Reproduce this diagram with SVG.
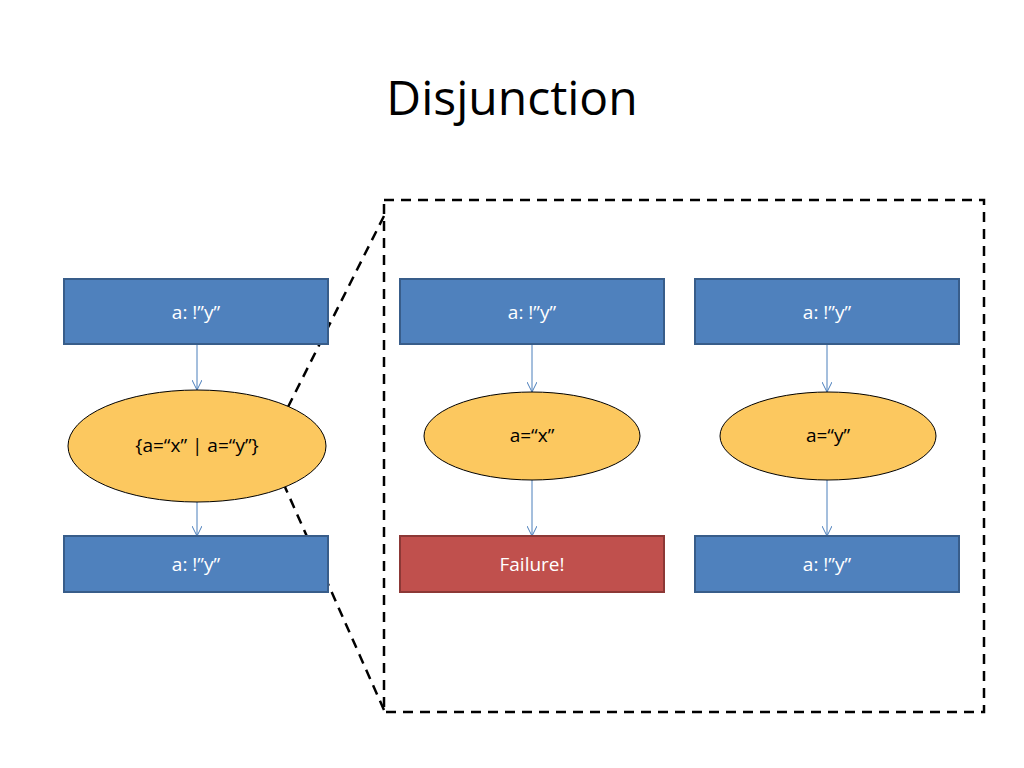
<svg xmlns="http://www.w3.org/2000/svg" width="1024" height="768" viewBox="0 0 1024 768">
<defs>
<style>
.b{fill:#4f81bd;stroke:#385d8a;stroke-width:2}
.r{fill:#c0504d;stroke:#8c3836;stroke-width:2}
.e{fill:#fcc85f;stroke:#000;stroke-width:1}
.tw{font-family:"Open Sans","Liberation Sans",sans-serif;font-size:19px;fill:#fff;text-anchor:middle}
.tk{font-family:"Open Sans","Liberation Sans",sans-serif;font-size:19px;fill:#000;text-anchor:middle}
.d{fill:none;stroke:#000;stroke-width:2.5;stroke-dasharray:10,7}
.c{stroke:#4a7ebb;stroke-width:1;fill:none;marker-end:url(#a)}
</style>
<marker id="a" markerWidth="12" markerHeight="10" refX="10" refY="5" orient="auto" markerUnits="userSpaceOnUse"><path d="M0,0 L10,5 L0,10" fill="none" stroke="#4a7ebb" stroke-width="1"/></marker>
</defs>
<rect width="1024" height="768" fill="#fff"/>
<text x="512" y="115" font-family="'Open Sans','Liberation Sans',sans-serif" font-size="48" text-anchor="middle" fill="#000">Disjunction</text>
<g id="zoom">
<rect class="d" x="384" y="200" width="600" height="512"/>
<line class="d" x1="384" y1="216" x2="288" y2="407"/>
<line class="d" x1="384" y1="710" x2="285" y2="487"/>
</g>
<g id="connectors">
<line class="c" x1="197" y1="345" x2="197" y2="390"/>
<line class="c" x1="197" y1="502" x2="197" y2="536"/>
<line class="c" x1="532" y1="345" x2="532" y2="392"/>
<line class="c" x1="532" y1="480" x2="532" y2="536"/>
<line class="c" x1="827" y1="345" x2="827" y2="392"/>
<line class="c" x1="827" y1="480" x2="827" y2="536"/>
</g>
<g id="l1"><rect class="b" x="64" y="279" width="264" height="65"/><text class="tw" x="196" y="319">a: !”y”</text></g>
<g id="l2"><ellipse class="e" cx="197" cy="446" rx="129" ry="56"/><text class="tk" x="197" y="452">{a=“x” | a=“y”}</text></g>
<g id="l3"><rect class="b" x="64" y="536" width="264" height="56"/><text class="tw" x="196" y="571">a: !”y”</text></g>
<g id="m1"><rect class="b" x="400" y="279" width="264" height="65"/><text class="tw" x="532" y="319">a: !”y”</text></g>
<g id="m2"><ellipse class="e" cx="532" cy="436" rx="108" ry="44"/><text class="tk" x="532" y="442">a=“x”</text></g>
<g id="m3"><rect class="r" x="400" y="536" width="264" height="56"/><text class="tw" x="532" y="571">Failure!</text></g>
<g id="n1"><rect class="b" x="695" y="279" width="264" height="65"/><text class="tw" x="827" y="319">a: !”y”</text></g>
<g id="n2"><ellipse class="e" cx="828" cy="436" rx="108" ry="44"/><text class="tk" x="828" y="442">a=“y”</text></g>
<g id="n3"><rect class="b" x="695" y="536" width="264" height="56"/><text class="tw" x="827" y="571">a: !”y”</text></g>
</svg>
